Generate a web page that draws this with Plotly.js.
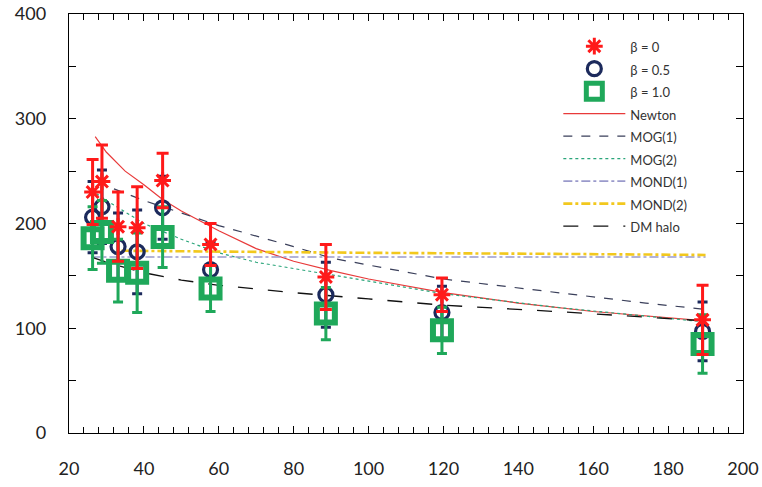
<!DOCTYPE html>
<html><head><meta charset="utf-8">
<script src="https://cdn.plot.ly/plotly-3.0.1.min.js"></script>
<style>html,body{margin:0;padding:0;background:#fff}#chart{width:762px;height:487px}</style>
</head><body><div id="chart"></div>
<script>
// data clusters (radius)
var rX = [26.3, 28.8, 33.1, 38.2, 45.0, 57.8, 88.6, 119.6, 189.2];
var beta0 = [230, 240, 197, 196, 241, 180, 149, 132, 108];
var beta0Err = [31, 35, 33, 39, 26, 20, 31, 16, 33];
var beta05 = [206, 216, 178, 173, 215, 156, 132, 115, 97];
var beta05Err = [34, 35, 32, 40, 30, 26, 31, 25, 28];
var beta10 = [186, 192, 155, 153, 187, 138, 114, 98, 85];
var beta10Err = [30, 30, 30, 38, 29, 22, 25, 22, 28];

// model curves
var newtonX = [27, 30, 35, 40, 45, 50, 60, 70, 80, 90, 100, 120, 140, 160, 190];
var newtonY = [283, 268, 250, 237, 223, 212, 193, 176, 164, 155, 147, 134, 124, 116, 107];
var mog1X = [32, 40, 50, 60, 80, 90, 120, 150, 174, 190];
var mog1Y = [233, 222, 210, 198, 178, 167, 147, 134, 124, 118];
var mog2X = [26, 30, 40, 50, 60, 70, 80, 90, 120, 150, 190];
var mog2Y = [232, 222, 200, 185, 172, 163, 157, 151, 133, 120, 106];
var mond1X = [26, 60, 100, 150, 190];
var mond1Y = [168, 168, 168, 168, 168];
var mond2X = [34, 60, 100, 150, 190];
var mond2Y = [174, 173, 172, 171, 170];
var dmX = [26, 30, 40, 50, 60, 80, 100, 120, 150, 190];
var dmY = [168, 163, 153, 146, 141, 134, 128, 122, 116, 107];

var legFont = function(t){ return '<span style="font-size:13px">' + t + '</span>'; };

var traces = [
  {x: newtonX, y: newtonY, mode: 'lines', name: legFont('Newton'), legendrank: 4,
   line: {color: '#e83a3a', width: 1.2}},
  {x: mog1X, y: mog1Y, mode: 'lines', name: legFont('MOG(1)'), legendrank: 5,
   line: {color: '#3a3f5a', width: 1.2, dash: 'dash'}},
  {x: mog2X, y: mog2Y, mode: 'lines', name: legFont('MOG(2)'), legendrank: 6,
   line: {color: '#2aa57a', width: 1.2, dash: 'dot'}},
  {x: mond1X, y: mond1Y, mode: 'lines', name: legFont('MOND(1)'), legendrank: 7,
   line: {color: '#9a9acb', width: 1.6, dash: 'dashdot'}},
  {x: mond2X, y: mond2Y, mode: 'lines', name: legFont('MOND(2)'), legendrank: 8,
   line: {color: '#f2c81e', width: 2.6, dash: 'dashdot'}},
  {x: dmX, y: dmY, mode: 'lines', name: legFont('DM halo'), legendrank: 9,
   line: {color: '#111111', width: 1.3, dash: 'longdash'}},
  {x: rX, y: beta05, mode: 'markers', name: legFont('β = 0.5'), legendrank: 2,
   marker: {symbol: 'circle-open', size: 14, color: '#1c2a5c', line: {width: 3.2, color: '#1c2a5c'}},
   error_y: {type: 'data', array: beta05Err, visible: true, color: '#1c2a5c', thickness: 3, width: 5}},
  {x: rX, y: beta10, mode: 'markers', name: legFont('β = 1.0'), legendrank: 3,
   marker: {symbol: 'square-open', size: 18, color: '#1fa85a', line: {width: 6, color: '#1fa85a'}},
   error_y: {type: 'data', array: beta10Err, visible: true, color: '#1fa85a', thickness: 3, width: 5}},
  {x: rX, y: beta0, mode: 'markers', name: legFont('β = 0'), legendrank: 1,
   marker: {symbol: 'asterisk-open', size: 14, color: '#ff1a1a', line: {width: 3, color: '#ff1a1a'}},
   error_y: {type: 'data', array: beta0Err, visible: true, color: '#ff1a1a', thickness: 3, width: 6}}
];

var axisCommon = {
  showgrid: false, zeroline: false, showline: true, linecolor: '#000', linewidth: 1.2,
  mirror: 'ticks', ticks: 'inside', tickcolor: '#000', ticklen: 7, tickwidth: 1,
  tickfont: {family: 'Lato, "Open Sans", sans-serif', size: 18, color: '#222'}
};

var layout = {
  width: 762, height: 487,
  margin: {l: 69, r: 19, t: 14, b: 54},
  paper_bgcolor: '#fff', plot_bgcolor: '#fff',
  showlegend: true,
  legend: {x: 0.726, y: 0.962, xanchor: 'left', yanchor: 'top', itemwidth: 62,
           bgcolor: 'rgba(255,255,255,0)', borderwidth: 0,
           font: {family: 'Lato, "Open Sans", sans-serif', size: 15, color: '#333'}},
  xaxis: Object.assign({}, axisCommon, {range: [20, 200], dtick: 20, tick0: 20,
    ticklabelstandoff: 19,
    minor: {dtick: 4, ticks: 'inside', ticklen: 6, tickcolor: '#000', showgrid: false}}),
  yaxis: Object.assign({}, axisCommon, {range: [0, 400], dtick: 100, tick0: 0,
    ticklabelstandoff: 18,
    minor: {dtick: 50, ticks: 'inside', ticklen: 7, tickcolor: '#000', showgrid: false}})
};

Plotly.newPlot('chart', traces, layout, {displayModeBar: false, staticPlot: true});
</script></body></html>
